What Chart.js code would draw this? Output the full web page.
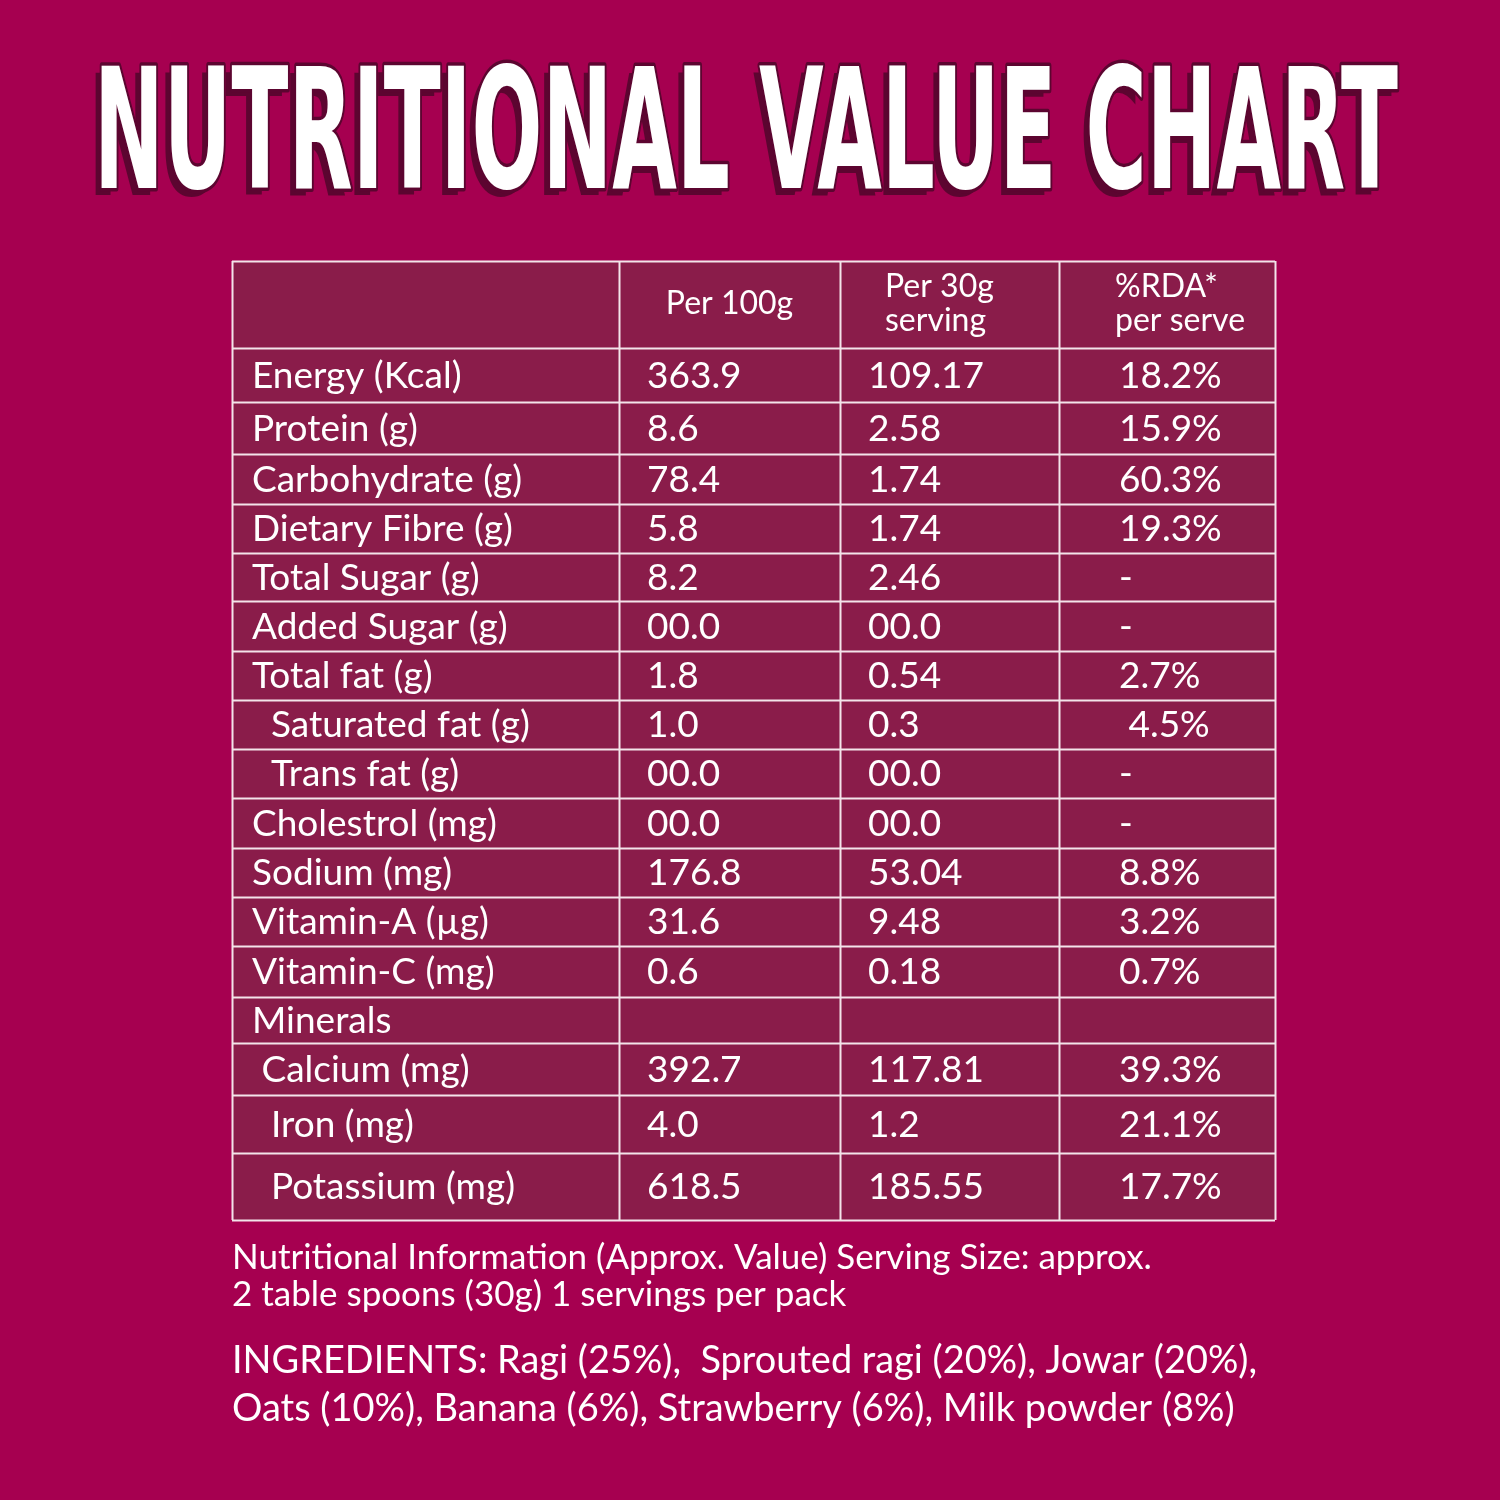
<!DOCTYPE html>
<html>
<head>
<meta charset="utf-8">
<title>Nutritional Value Chart</title>
<script src="https://cdn.jsdelivr.net/npm/chart.js@4"></script>
<style>
  html, body { margin: 0; padding: 0; background: #a60050; }
  #wrapper { width: 1500px; height: 1500px; }
</style>
</head>
<body>
<div id="wrapper"><canvas id="chartjs" width="1500" height="1500"></canvas></div>
<script>
// ---- data ----
const titleText = 'NUTRITIONAL VALUE CHART';
const columnHeaders = ['', 'Per 100g', 'Per 30g\nserving', '%RDA*\nper serve'];
const nutrients = [
  'Energy (Kcal)', 'Protein (g)', 'Carbohydrate (g)', 'Dietary Fibre (g)',
  'Total Sugar (g)', 'Added Sugar (g)', 'Total fat (g)', '  Saturated fat (g)',
  '  Trans fat (g)', 'Cholestrol (mg)', 'Sodium (mg)', 'Vitamin-A (\u00b5g)',
  'Vitamin-C (mg)', 'Minerals', ' Calcium (mg)', '  Iron (mg)', '  Potassium (mg)'
];
const per100g = ['363.9', '8.6', '78.4', '5.8', '8.2', '00.0', '1.8', '1.0', '00.0',
  '00.0', '176.8', '31.6', '0.6', '', '392.7', '4.0', '618.5'];
const per30g = ['109.17', '2.58', '1.74', '1.74', '2.46', '00.0', '0.54', '0.3', '00.0',
  '00.0', '53.04', '9.48', '0.18', '', '117.81', '1.2', '185.55'];
const rdaPerServe = ['18.2%', '15.9%', '60.3%', '19.3%', '-', '-', '2.7%', ' 4.5%', '-',
  '-', '8.8%', '3.2%', '0.7%', '', '39.3%', '21.1%', '17.7%'];
const footnoteLines = [
  'Nutritional Information (Approx. Value) Serving Size: approx.',
  '2 table spoons (30g) 1 servings per pack'
];
const ingredientLines = [
  'INGREDIENTS: Ragi (25%),  Sprouted ragi (20%), Jowar (20%),',
  'Oats (10%), Banana (6%), Strawberry (6%), Milk powder (8%)'
];

// ---- layout (table units) ----
const colWidths = [387, 221, 219, 216];
const rowHeights = [87, 54, 52, 50, 49, 48, 50, 49, 49, 49, 50, 49, 49, 51, 46, 52, 58, 67];
const colInsets = [20, 28, 28, 60];
const headInsets = [0, 44, 45, 56];

const cum = arr => arr.reduce((acc, v) => { acc.push(acc[acc.length - 1] + v); return acc; }, [0]);
const colEdges = cum(colWidths);
const rowEdges = cum(rowHeights);

const BG = '#a60050';
const CELL = '#8a1c4a';
const LINE = '#f3e4ea';
const SHADOW = '#5c0530';
const FONT = 'Lato, "Open Sans", sans-serif';

const tablePlugin = {
  id: 'nutritionTable',
  beforeDraw(chart) {
    const ctx = chart.ctx;
    ctx.save();
    ctx.fillStyle = BG;
    ctx.fillRect(0, 0, chart.width, chart.height);
    ctx.restore();
  },
  afterDraw(chart) {
    const ctx = chart.ctx;
    const xs = chart.scales.x;
    const ys = chart.scales.y;
    const area = chart.chartArea;

    // title
    ctx.save();
    ctx.font = 'bold 168px "Liberation Sans Narrow", "DejaVu Sans Condensed", sans-serif';
    ctx.textAlign = 'left';
    ctx.textBaseline = 'alphabetic';
    const tx = 94, ty = 188, tw = 1304;
    ctx.fillStyle = SHADOW;
    ctx.fillText(titleText, tx - 6, ty + 7, tw);
    ctx.lineJoin = 'round';
    ctx.lineWidth = 7;
    ctx.strokeStyle = SHADOW;
    ctx.strokeText(titleText, tx, ty, tw);
    ctx.fillStyle = '#ffffff';
    ctx.fillText(titleText, tx, ty, tw);
    ctx.restore();

    // cells
    const columns = [nutrients, per100g, per30g, rdaPerServe];
    ctx.save();
    ctx.fillStyle = CELL;
    ctx.fillRect(area.left, area.top, area.right - area.left, area.bottom - area.top);
    ctx.strokeStyle = LINE;
    ctx.lineWidth = 2;
    ctx.beginPath();
    rowEdges.forEach(v => {
      const py = Math.round(ys.getPixelForValue(v)) + 0.5;
      ctx.moveTo(area.left, py);
      ctx.lineTo(area.right, py);
    });
    colEdges.forEach(v => {
      const px = Math.round(xs.getPixelForValue(v)) + 0.5;
      ctx.moveTo(px, area.top);
      ctx.lineTo(px, area.bottom);
    });
    ctx.stroke();

    // header text
    ctx.fillStyle = '#ffffff';
    ctx.textBaseline = 'middle';
    ctx.font = '32px ' + FONT;
    const hTop = ys.getPixelForValue(rowEdges[0]);
    const hBot = ys.getPixelForValue(rowEdges[1]);
    columnHeaders.forEach((h, c) => {
      if (!h) return;
      const lines = h.split('\n');
      const left = xs.getPixelForValue(colEdges[c]);
      const right = xs.getPixelForValue(colEdges[c + 1]);
      const mid = (hTop + hBot) / 2;
      const gap = 34;
      lines.forEach((ln, i) => {
        const py = mid + (i - (lines.length - 1) / 2) * gap - 1;
        if (lines.length === 1) {
          ctx.textAlign = 'center';
          ctx.fillText(ln, (left + right) / 2, py);
        } else {
          ctx.textAlign = 'left';
          ctx.fillText(ln, left + headInsets[c], py);
        }
      });
    });

    // body text
    ctx.textAlign = 'left';
    ctx.font = '37px ' + FONT;
    for (let r = 0; r < nutrients.length; ++ r) {
      const top = ys.getPixelForValue(rowEdges[r + 1]);
      const bot = ys.getPixelForValue(rowEdges[r + 2]);
      const py = (top + bot) / 2 + 1;
      columns.forEach((col, c) => {
        const txt = col[r];
        if (!txt) return;
        ctx.fillText(txt, xs.getPixelForValue(colEdges[c]) + colInsets[c], py);
      });
    }

    // notes below table
    ctx.textBaseline = 'middle';
    ctx.font = '35px ' + FONT;
    footnoteLines.forEach((ln, i) => {
      ctx.fillText(ln, area.left, area.bottom + 38 + i * 37, 920);
    });
    ctx.font = '38px ' + FONT;
    ingredientLines.forEach((ln, i) => {
      ctx.fillText(ln, area.left, area.bottom + 141 + i * 48, 1025);
    });
    ctx.restore();
  }
};

const ctx = document.getElementById('chartjs').getContext('2d');
new Chart(ctx, {
  type: 'scatter',
  data: { datasets: [] },
  options: {
    responsive: false,
    animation: false,
    events: [],
    layout: { padding: { left: 232, right: 225, top: 261, bottom: 280 } },
    plugins: { legend: { display: false }, title: { display: false }, tooltip: { enabled: false } },
    scales: {
      x: { type: 'linear', offset: false, min: 0, max: colEdges[colEdges.length - 1], display: false },
      y: { type: 'linear', offset: false, min: 0, max: rowEdges[rowEdges.length - 1], reverse: true, display: false }
    }
  },
  plugins: [tablePlugin]
});
</script>
</body>
</html>
